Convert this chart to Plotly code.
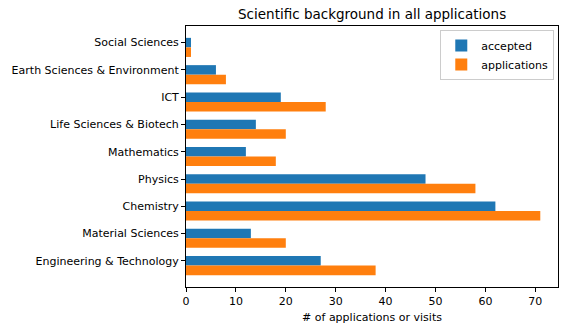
import plotly.graph_objects as go

categories = ["Engineering & Technology", "Material Sciences", "Chemistry", "Physics",
              "Mathematics", "Life Sciences & Biotech", "ICT",
              "Earth Sciences & Environment", "Social Sciences"]
accepted = [27, 13, 62, 48, 12, 14, 19, 6, 1]
applications = [38, 20, 71, 58, 18, 20, 28, 8, 1]
x_ticks = [0, 10, 20, 30, 40, 50, 60, 70]

W = 0.35
idx = list(range(len(categories)))
FONT = "DejaVu Sans"

fig = go.Figure()
fig.add_trace(go.Bar(y=idx, x=accepted, orientation="h", width=W, name="accepted",
                     marker=dict(color="#1f77b4", line=dict(width=0))))
fig.add_trace(go.Bar(y=[i - W for i in idx], x=applications, orientation="h", width=W,
                     name="applications", marker=dict(color="#ff7f0e", line=dict(width=0))))

span_lo = -W - W / 2
span_hi = len(categories) - 1 + W / 2
pad = 0.05 * (span_hi - span_lo)
xmax = max(applications) * 1.05

fig.update_layout(
    width=569, height=334,
    margin=dict(l=186, r=11, t=26, b=47),
    plot_bgcolor="white", paper_bgcolor="white",
    font=dict(family=FONT, size=11, color="black"),
    barmode="overlay",
    title=dict(text="Scientific background in all applications", x=0.654, xanchor="center",
               y=0.958, yanchor="middle", font=dict(size=13.5)),
    showlegend=True,
    legend=dict(x=0.99, y=0.985, xanchor="right", yanchor="top",
                bordercolor="#cccccc", borderwidth=1, bgcolor="white",
                font=dict(size=11), tracegroupgap=0, itemwidth=30),
    xaxis=dict(range=[0, xmax], tickvals=x_ticks, showgrid=False, zeroline=False,
               showline=True, linecolor="black", linewidth=1, mirror=True,
               ticks="outside", ticklen=4, tickcolor="black", automargin=False,
               title=dict(text="# of applications or visits", standoff=6, font=dict(size=11))),
    yaxis=dict(range=[span_lo - pad, span_hi + pad], tickvals=idx, ticktext=categories,
               showgrid=False, zeroline=False, showline=True, linecolor="black",
               linewidth=1, mirror=True, ticks="outside", ticklen=4, tickcolor="black",
               automargin=False),
)

fig.write_html("out.html")
